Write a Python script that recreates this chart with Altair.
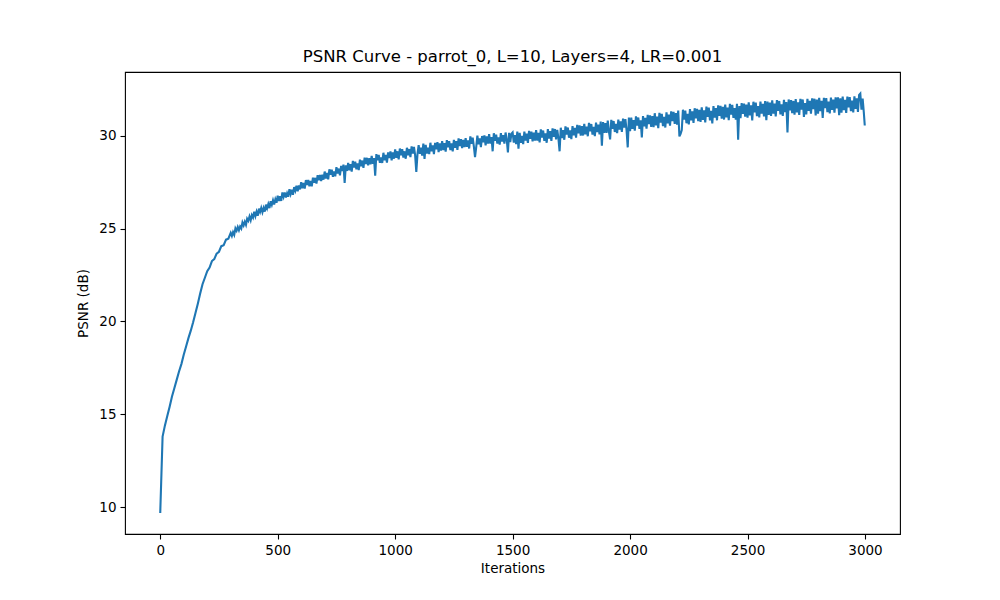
import altair as alt
import pandas as pd

# PSNR.
# Iterations 0..290 every 10 (smooth start)
psnr_0000_0290 = [
    9.68, 13.8, 14.4, 14.9, 15.4, 15.95, 16.4, 16.85, 17.3, 17.7,
    18.2, 18.65, 19.1, 19.5, 19.95, 20.45, 20.95, 21.5, 22.0, 22.35,
    22.7, 22.9, 23.25, 23.35, 23.65, 23.75, 24.05, 24.1, 24.4, 24.45,
]
# Iterations 300..995 every 5 (one row = 100 iterations)
psnr_0300_0995 = [
    24.77, 24.60, 24.81, 24.66, 25.01, 24.88, 25.08, 24.91, 25.11, 25.00, 25.33, 25.17, 25.37, 25.20, 25.53, 25.42, 25.65, 25.45, 25.72, 25.59,
    25.90, 25.67, 25.91, 25.69, 26.07, 25.89, 26.11, 25.88, 26.11, 25.91, 26.29, 26.09, 26.32, 26.10, 26.47, 26.28, 26.52, 26.29, 26.57, 26.39,
    26.77, 26.49, 26.74, 26.49, 26.94, 26.71, 26.94, 26.67, 26.90, 26.71, 27.12, 26.86, 27.09, 26.82, 27.23, 27.04, 27.31, 27.00, 27.32, 27.11,
    27.50, 27.17, 27.45, 27.15, 27.61, 27.35, 27.62, 27.28, 27.56, 27.27, 27.74, 27.46, 27.73, 27.42, 27.87, 27.60, 27.89, 27.56, 27.90, 27.63,
    28.07, 27.69, 27.99, 27.65, 28.19, 27.89, 28.17, 27.79, 28.07, 27.81, 28.31, 27.96, 28.23, 27.86, 28.37, 28.10, 28.44, 27.45, 28.40, 28.10,
    28.54, 28.13, 28.47, 28.07, 28.64, 28.29, 28.60, 28.19, 28.51, 28.15, 28.71, 28.35, 28.66, 28.27, 28.82, 28.47, 28.81, 28.40, 28.79, 28.46,
    28.91, 28.49, 28.80, 27.85, 29.01, 28.67, 28.96, 28.54, 28.83, 28.53, 29.08, 28.68, 28.97, 28.55, 29.10, 28.80, 29.15, 28.67, 29.10, 28.76,
]
# Iterations 1000..1995 every 5
psnr_1000_1995 = [
    29.26, 28.81, 29.16, 28.72, 29.31, 28.95, 29.27, 28.82, 29.16, 28.76, 29.35, 28.95, 29.28, 28.85, 29.42, 29.04, 29.40, 28.95, 28.05, 29.01,
    29.49, 29.02, 29.36, 28.93, 29.58, 28.75, 29.51, 29.04, 29.35, 29.01, 29.62, 29.16, 29.48, 29.01, 29.61, 29.27, 29.65, 29.11, 29.59, 29.20,
    29.71, 29.23, 29.60, 29.14, 29.76, 29.37, 29.71, 29.23, 29.58, 29.16, 29.77, 29.35, 29.70, 29.24, 29.85, 29.44, 29.81, 29.33, 29.77, 29.38,
    29.87, 29.40, 29.74, 29.31, 29.96, 29.57, 29.89, 29.42, 28.85, 29.39, 30.00, 29.53, 29.85, 29.38, 29.98, 29.64, 30.02, 29.48, 29.96, 29.57,
    30.08, 29.57, 29.93, 29.16, 30.13, 29.73, 30.06, 29.57, 29.91, 29.52, 30.14, 29.69, 30.03, 29.57, 30.17, 29.78, 29.10, 30.15, 29.66, 30.11,
    30.18, 29.63, 30.03, 29.54, 30.22, 29.30, 30.15, 29.62, 29.99, 29.55, 30.22, 29.74, 30.11, 29.61, 30.26, 29.83, 30.22, 29.69, 30.17, 29.74,
    30.30, 29.73, 30.15, 29.64, 30.34, 29.90, 30.28, 29.72, 30.12, 29.62, 30.35, 29.85, 30.24, 29.72, 30.39, 29.94, 30.36, 29.80, 30.31, 29.85,
    29.16, 30.43, 29.87, 30.30, 29.78, 30.50, 30.06, 30.44, 29.89, 30.29, 29.81, 30.52, 30.02, 30.42, 29.90, 30.58, 30.13, 30.55, 30.00, 30.51,
    30.01, 30.64, 30.07, 30.49, 29.97, 30.69, 30.23, 30.63, 30.06, 30.47, 29.98, 30.71, 30.19, 30.60, 30.07, 30.76, 29.46, 30.73, 30.15, 30.68,
    30.15, 30.81, 30.22, 29.80, 30.85, 30.37, 30.79, 30.20, 30.63, 30.14, 30.87, 30.33, 30.77, 30.21, 30.92, 30.44, 30.89, 30.30, 29.37, 30.98,
]
# Iterations 2000..2995 every 5, then the last iteration 2999
psnr_2000_2999 = [
    30.25, 30.98, 30.37, 30.84, 30.27, 31.04, 30.54, 30.98, 30.37, 30.83, 29.90, 31.06, 30.50, 30.96, 30.38, 31.12, 30.62, 31.09, 30.48, 31.05,
    30.46, 31.21, 30.55, 31.03, 30.41, 31.23, 30.71, 31.18, 30.52, 31.01, 30.44, 31.26, 30.67, 31.14, 30.54, 31.31, 30.78, 31.28, 30.63, 31.22,
    30.60, 31.35, 29.96, 30.10, 30.30, 31.40, 30.86, 31.35, 30.67, 31.18, 30.61, 31.43, 30.82, 31.31, 30.69, 31.48, 30.93, 31.45, 30.78, 31.39,
    30.74, 31.53, 30.85, 31.36, 30.71, 31.57, 31.01, 31.51, 30.82, 31.34, 30.66, 31.59, 30.97, 31.48, 30.83, 31.63, 31.07, 31.61, 30.92, 31.55,
    30.87, 31.68, 30.99, 31.51, 30.84, 31.71, 31.14, 31.66, 30.96, 31.48, 30.87, 31.72, 29.78, 31.60, 30.95, 31.76, 31.18, 31.73, 31.03, 31.68,
    30.97, 31.80, 31.09, 31.63, 30.82, 31.83, 31.25, 31.78, 31.05, 31.59, 30.98, 31.84, 31.19, 31.72, 31.04, 31.87, 30.83, 31.84, 31.12, 31.78,
    31.06, 31.91, 31.19, 31.73, 31.04, 31.92, 31.34, 31.87, 31.15, 31.69, 31.06, 31.93, 31.27, 31.81, 30.18, 31.95, 31.36, 31.92, 31.21, 31.87,
    31.13, 31.97, 31.26, 31.80, 31.12, 31.99, 31.41, 31.95, 31.01, 31.76, 31.15, 31.99, 31.34, 31.88, 31.19, 32.01, 31.43, 31.99, 31.09, 31.95,
    31.19, 32.04, 31.32, 31.88, 30.96, 32.04, 31.48, 32.02, 31.27, 31.83, 31.20, 32.05, 31.39, 31.94, 31.24, 32.07, 31.47, 32.06, 31.10, 32.01,
    31.24, 32.10, 31.37, 31.93, 31.23, 32.11, 31.52, 32.08, 31.32, 31.89, 31.25, 32.12, 31.44, 32.01, 31.28, 32.20, 32.27, 31.40, 32.00, 31.25,
    30.55,
]

psnr = psnr_0000_0290 + psnr_0300_0995 + psnr_1000_1995 + psnr_2000_2999
iterations = list(range(0, 300, 10)) + list(range(300, 3000, 5)) + [2999]

x_ticks = [0, 500, 1000, 1500, 2000, 2500, 3000]
y_ticks = [10, 15, 20, 25, 30]

df = pd.DataFrame({"Iterations": iterations, "PSNR": psnr})

FONT = "DejaVu Sans"

chart = (
    alt.Chart(df)
    .mark_line(color="#1f77b4", strokeWidth=2.1, clip=True)
    .encode(
        x=alt.X(
            "Iterations:Q",
            title="Iterations",
            scale=alt.Scale(domain=[-150, 3149], nice=False, zero=False),
            axis=alt.Axis(values=x_ticks, format="d", grid=False),
        ),
        y=alt.Y(
            "PSNR:Q",
            title="PSNR (dB)",
            scale=alt.Scale(domain=[8.55, 33.43], nice=False, zero=False),
            axis=alt.Axis(values=y_ticks, format="d", grid=False),
        ),
    )
    .properties(
        width=775,
        height=462,
        title=alt.TitleParams(
            "PSNR Curve - parrot_0, L=10, Layers=4, LR=0.001",
            font=FONT,
            fontSize=16.5,
            fontWeight="normal",
            color="black",
            offset=7,
        ),
        autosize=alt.AutoSizeParams(type="none"),
        padding={"left": 117, "top": 64, "right": 92, "bottom": 50},
    )
    .configure_view(stroke="black", strokeWidth=1.1)
    .configure_axis(
        labelFont=FONT,
        labelFontSize=13.5,
        labelColor="black",
        titleFont=FONT,
        titleFontSize=13.5,
        titleFontWeight="normal",
        titleColor="black",
        domain=False,
        tickColor="black",
        tickWidth=1.1,
        tickSize=5,
        labelPadding=4,
    )
    .configure_axisX(titlePadding=5)
    .configure_axisY(titlePadding=8)
)

chart.save("out.html", embed_options={"renderer": "svg", "actions": False})
